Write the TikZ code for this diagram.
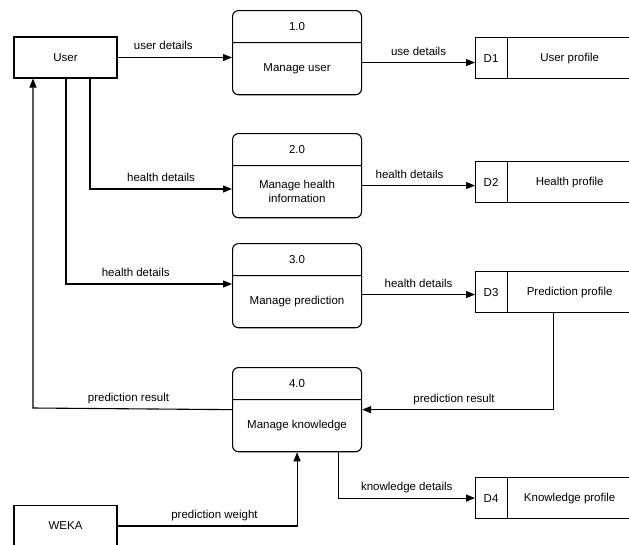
\documentclass[tikz,border=0pt]{standalone}
\usepackage{fontspec}
\setmainfont{Liberation Sans}
\usetikzlibrary{shapes,arrows.meta}
\tikzstyle{entity} = [draw, minimum width=103pt, minimum height=41pt, inner sep=0pt]
\tikzstyle{process} = [draw, rectangle split, rectangle split parts=2, rounded corners=6pt, inner sep=0pt, anchor=north west]
\tikzstyle{store} = [draw, rectangle split, rectangle split horizontal, rectangle split parts=2, inner sep=0pt, anchor=north west]
\tikzstyle{flow} = [above, inner sep=4pt, text depth=3pt]
\newcommand{\dfdnum}[1]{\parbox[c][31pt][c]{129pt}{\centering #1}}
\newcommand{\dfdname}[1]{\parbox[c][51pt][c]{129pt}{\centering #1}}
\newcommand{\dfdid}[1]{\parbox[c][41pt][c]{31pt}{\centering #1}}
\newcommand{\dfdstore}[1]{\parbox[c][41pt][c]{124pt}{\centering #1}}

\begin{document}
\begin{tikzpicture}[x=1pt,y=-1pt,>={Triangle[length=9pt,width=7pt]},line width=1.1pt,font=\fontsize{11.5}{14}\selectfont]
  \useasboundingbox (0,0) rectangle (629,544);
  \clip (0,0) rectangle (629,544);

  \node[entity] (user) at (65.5,57.5) {User};
  \node[entity] (weka) at (65.5,526) {WEKA};

  \node[process] (manageUser) at (232,10) {\dfdnum{1.0}\nodepart{two}\dfdname{Manage user}};
  \node[process] (manageHealth) at (232,133) {\dfdnum{2.0}\nodepart{two}\dfdname{Manage health\\information}};
  \node[process] (managePrediction) at (232,243) {\dfdnum{3.0}\nodepart{two}\dfdname{Manage prediction}};
  \node[process] (manageKnowledge) at (232,367) {\dfdnum{4.0}\nodepart{two}\dfdname{Manage knowledge}};

  \node[store] (userProfile) at (475,37) {\dfdid{D1}\nodepart{two}\dfdstore{User profile}};
  \node[store] (healthProfile) at (475,161) {\dfdid{D2}\nodepart{two}\dfdstore{Health profile}};
  \node[store] (predictionProfile) at (475,271) {\dfdid{D3}\nodepart{two}\dfdstore{Prediction profile}};
  \node[store] (knowledgeProfile) at (475,477) {\dfdid{D4}\nodepart{two}\dfdstore{Knowledge profile}};

  \coordinate (healthBend) at (90,189);
  \coordinate (predictionBend) at (66,284);
  \coordinate (resultBend) at (33,408);

  \begin{scope}[every path/.style=draw]
    \path[->] (user.east) -- node[flow,pos=0.4] {user details} (user.east -| manageUser.west);
    \path[->] ([yshift=-4.5pt]userProfile.west -| manageUser.east) -- node[flow] {use details} ([yshift=-4.5pt]userProfile.west);
    \path[->] (user.south -| healthBend) -- (healthBend) -- node[flow] {health details} (healthBend -| manageHealth.west);
    \path[->] ([yshift=-3.5pt]healthProfile.west -| manageHealth.east) -- node[flow,pos=0.42] {health details} ([yshift=-3.5pt]healthProfile.west);
    \path[->] (user.south -| predictionBend) -- (predictionBend) -- node[flow,pos=0.42] {health details} (predictionBend -| managePrediction.west);
    \path[->] ([yshift=-2.5pt]predictionProfile.west -| managePrediction.east) -- node[flow] {health details} ([yshift=-2.5pt]predictionProfile.west);
    \path[->] (predictionProfile.south) |- node[flow,pos=0.76] {prediction result} (manageKnowledge.east);
    \path[->] (manageKnowledge.west) -- node[flow,pos=0.52] {prediction result} (resultBend) -- (resultBend |- user.south);
    \path[->] (weka.east) -| node[flow,pos=0.27] {prediction weight} (manageKnowledge.south);
    \path[->] ([xshift=41.5pt]manageKnowledge.south) |- node[flow,pos=0.75] {knowledge details} (knowledgeProfile.west);
  \end{scope}
\end{tikzpicture}
\end{document}
